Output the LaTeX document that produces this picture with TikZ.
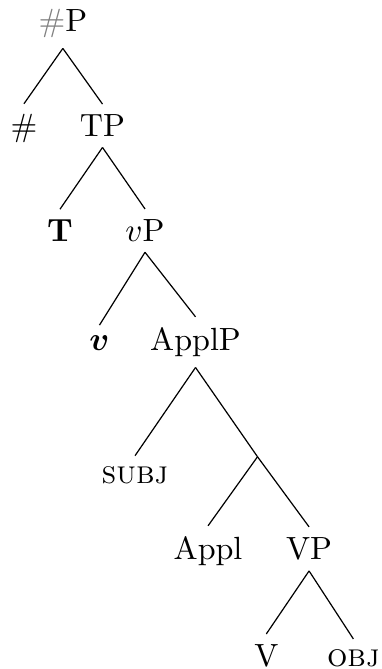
\documentclass[tikz,border=0pt]{standalone}
\usepackage{amsmath}
\usepackage{amssymb}
\usepackage{tikz}

\begin{document}
\begin{tikzpicture}
\tikzset{tree node/.style={ %
		anchor=base,
		font=\fontsize{10.6pt}{12.7pt}\selectfont,
		inner sep=0.3333em %
	}
}
\useasboundingbox (0,0) rectangle (4.42,-7.76);
% nodes, top to bottom
\node[tree node] (hashP) at (0.729,-0.365) {\textcolor{gray}{\#}P};
\node[tree node] (hash) at (0.278,-1.586) {\#};
\node[tree node] (TP) at (1.189,-1.586) {TP};
\node[tree node] (T) at (0.696,-2.802) {\textbf{T}};
\node[tree node] (vP) at (1.682,-2.802) {$v$P};
\node[tree node] (v) at (1.154,-4.066) {$\boldsymbol{v}$};
\node[tree node] (ApplP) at (2.268,-4.066) {ApplP};
\node[tree node] (subj) at (1.566,-5.607) {\textsc{subj}};
\coordinate (Applbar) at (2.987,-5.298);
\node[tree node] (Appl) at (2.413,-6.490) {Appl};
\node[tree node] (VP) at (3.585,-6.490) {VP};
\node[tree node] (V) at (3.089,-7.732) {V};
\node[tree node] (obj) at (4.099,-7.732) {\textsc{obj}};
% branches
\draw (hashP.south) -- (hash.north);
\draw (hashP.south) -- (TP.north);
\draw (TP.south) -- (T.north);
\draw (TP.south) -- (vP.north);
\draw (vP.south) -- (v.north);
\draw (vP.south) -- (ApplP.north);
\draw (ApplP.south) -- (subj.north);
\draw (ApplP.south) -- (Applbar);
\draw (Applbar) -- (Appl.north);
\draw (Applbar) -- (VP.north);
\draw (VP.south) -- (V.north);
\draw (VP.south) -- (obj.north);
\end{tikzpicture}
\end{document}
